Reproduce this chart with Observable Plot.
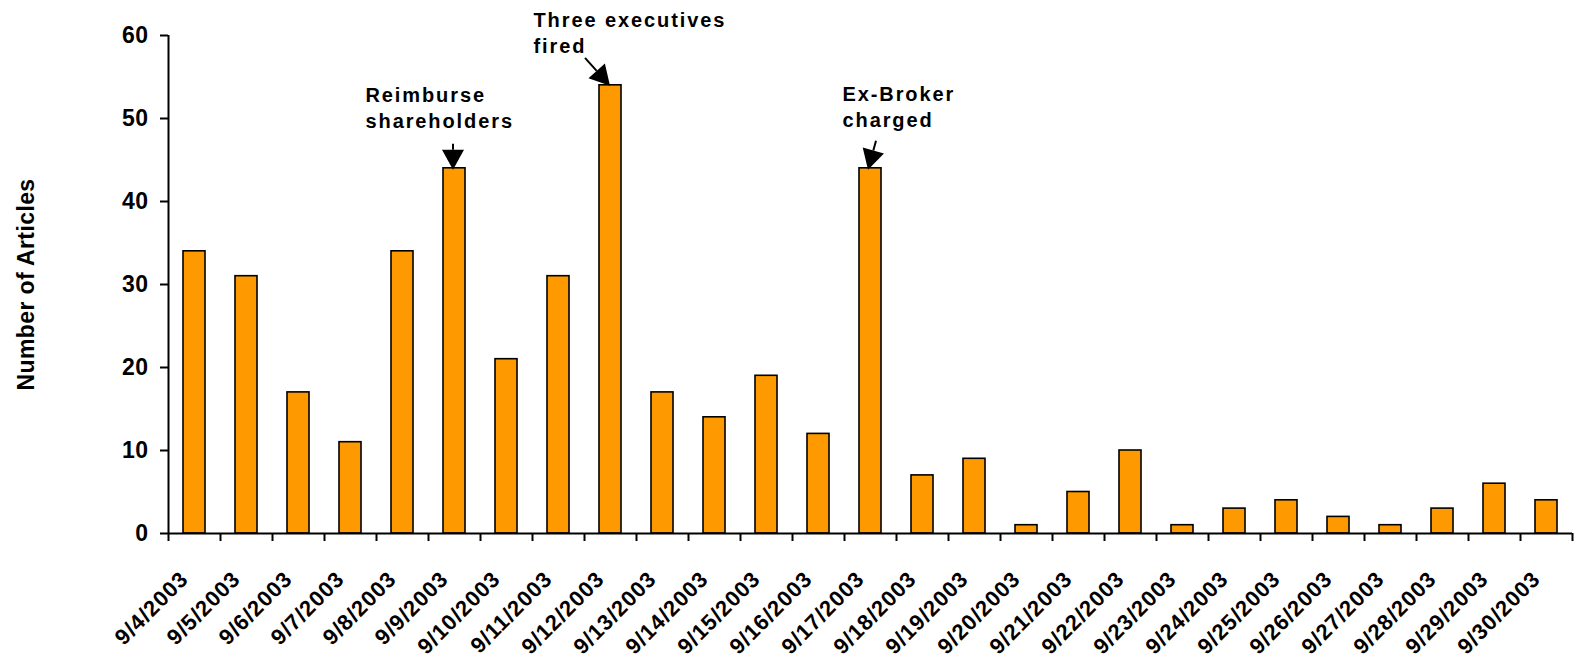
<!DOCTYPE html>
<html>
<head>
<meta charset="utf-8">
<script src="https://cdn.jsdelivr.net/npm/d3@7"></script>
<script src="https://cdn.jsdelivr.net/npm/@observablehq/plot@0.6"></script>
<style>
  html, body { margin: 0; padding: 0; background: #fff; }
  #chart svg { display: block; }
</style>
</head>
<body>
<div id="chart"></div>
<script>
// Daily article counts, September 2003
const dayLabels = [
  "9/4/2003", "9/5/2003", "9/6/2003", "9/7/2003", "9/8/2003", "9/9/2003",
  "9/10/2003", "9/11/2003", "9/12/2003", "9/13/2003", "9/14/2003", "9/15/2003",
  "9/16/2003", "9/17/2003", "9/18/2003", "9/19/2003", "9/20/2003", "9/21/2003",
  "9/22/2003", "9/23/2003", "9/24/2003", "9/25/2003", "9/26/2003", "9/27/2003",
  "9/28/2003", "9/29/2003", "9/30/2003"
];
const counts = [
  34, 31, 17, 11, 34, 44, 21, 31, 54, 17, 14, 19, 12, 44,
  7, 9, 1, 5, 10, 1, 3, 4, 2, 1, 3, 6, 4
];
const yTicks = [0, 10, 20, 30, 40, 50, 60];
const yTitle = "Number of Articles";

// Event callouts: the day they point at and their text
const eventDays = ["9/9/2003", "9/12/2003", "9/17/2003"];
const eventTexts = ["Reimburse\nshareholders", "Three executives\nfired", "Ex-Broker\ncharged"];
// pixel offsets of each callout relative to the top centre of its bar
const noteOffsets = [
  {dx: -89, dy: -40, tail: [-1, -24], tip: [-1, 2]},
  {dx: -77, dy: -32, tail: [-25, -27], tip: [0, 1]},
  {dx: -28, dy: -41, tail: [6, -27], tip: [-2, 2]}
];

const parseDay = d3.utcParse("%m/%d/%Y");
const rows = dayLabels.map((label, i) => ({label, date: parseDay(label), count: counts[i]}));
const midday = (d) => d3.utcHour.offset(d, 12);
const start = rows[0].date;
const end = d3.utcDay.offset(rows[rows.length - 1].date, 1);
const boundaries = [...rows.map((r) => r.date), end];

const notes = eventDays.map((day, k) => {
  const r = rows.find((row) => row.label === day);
  return {...r, text: eventTexts[k], ...noteOffsets[k]};
});

const font = "'Liberation Sans', Arial, Helvetica, sans-serif";

// Callout arrows with filled heads, placed from the scales
function calloutArrows(index, scales) {
  const g = d3.create("svg:g").attr("aria-label", "callout arrows");
  for (const n of notes) {
    const cx = scales.x(midday(n.date));
    const cy = scales.y(n.count);
    const tip = [cx + n.tip[0], cy + n.tip[1]];
    const tail = [cx + n.tail[0], cy + n.tail[1]];
    const ang = Math.atan2(tip[1] - tail[1], tip[0] - tail[0]);
    const headLen = 20, headHalf = 11;
    const base = [tip[0] - headLen * Math.cos(ang), tip[1] - headLen * Math.sin(ang)];
    const px = -Math.sin(ang), py = Math.cos(ang);
    g.append("line")
      .attr("x1", tail[0]).attr("y1", tail[1])
      .attr("x2", base[0]).attr("y2", base[1])
      .attr("stroke", "#000").attr("stroke-width", 2);
    g.append("polygon")
      .attr("points", [
        tip,
        [base[0] + px * headHalf, base[1] + py * headHalf],
        [base[0] - px * headHalf, base[1] - py * headHalf]
      ].map((p) => p.join(",")).join(" "))
      .attr("fill", "#000");
  }
  return g.node();
}

const chart = Plot.plot({
  width: 1574,
  height: 664,
  marginLeft: 168,
  marginRight: 2,
  marginTop: 35,
  marginBottom: 131,
  style: {fontFamily: font, color: "#000", background: "#fff"},
  x: {type: "utc", domain: [start, end]},
  y: {domain: [0, 60], label: null},
  marks: [
    Plot.rectY(rows, {
      x1: "date",
      x2: (d) => d3.utcDay.offset(d.date, 1),
      y: "count",
      insetLeft: 15,
      insetRight: 15,
      fill: "#FF9900",
      stroke: "#000",
      strokeWidth: 1.6
    }),
    Plot.ruleX([start], {stroke: "#000", strokeWidth: 2}),
    Plot.ruleY([0], {stroke: "#000", strokeWidth: 2}),
    Plot.axisY({
      ticks: yTicks,
      tickSize: 8,
      tickPadding: 12,
      tickFormat: (d) => String(d),
      fontSize: 23,
      fontWeight: "bold",
      strokeWidth: 2,
      label: null
    }),
    Plot.axisX({
      ticks: boundaries,
      tickSize: 8,
      tickFormat: () => "",
      strokeWidth: 2,
      label: null
    }),
    // date labels under each bar
    Plot.text(rows, {
      x: (d) => midday(d.date),
      text: "label",
      frameAnchor: "bottom",
      dx: -5,
      dy: 47,
      rotate: -45,
      textAnchor: "end",
      lineAnchor: "bottom",
      fontSize: 22,
      fontWeight: "bold",
      fill: "#000"
    }),
    // y-axis title
    Plot.text([yTitle], {
      text: (d) => d,
      frameAnchor: "left",
      dx: -135,
      rotate: -90,
      textAnchor: "middle",
      lineAnchor: "bottom",
      fontSize: 23,
      fontWeight: "bold",
      fill: "#000"
    }),
    // event callout texts
    ...notes.map((n) => Plot.text([n], {
      x: (d) => midday(d.date),
      y: "count",
      text: "text",
      dx: n.dx,
      dy: n.dy,
      textAnchor: "start",
      lineAnchor: "bottom",
      lineHeight: 1.3,
      fontSize: 20,
      fontWeight: "bold",
      fill: "#000"
    })),
    calloutArrows
  ]
});

// letter spacing per text layer: date labels, y title, then the three callouts
const textLayers = d3.select(chart).selectAll('g[aria-label="text"]').nodes();
const spacing = [0.9, 0.4, 1.9, 1.9, 1.9];
textLayers.forEach((g, i) => d3.select(g).style("letter-spacing", `${spacing[i] ?? 0}px`));
d3.select(chart).selectAll('g[aria-label="y-axis tick label"]').style("letter-spacing", "0.5px");

document.getElementById("chart").appendChild(chart);
</script>
</body>
</html>
